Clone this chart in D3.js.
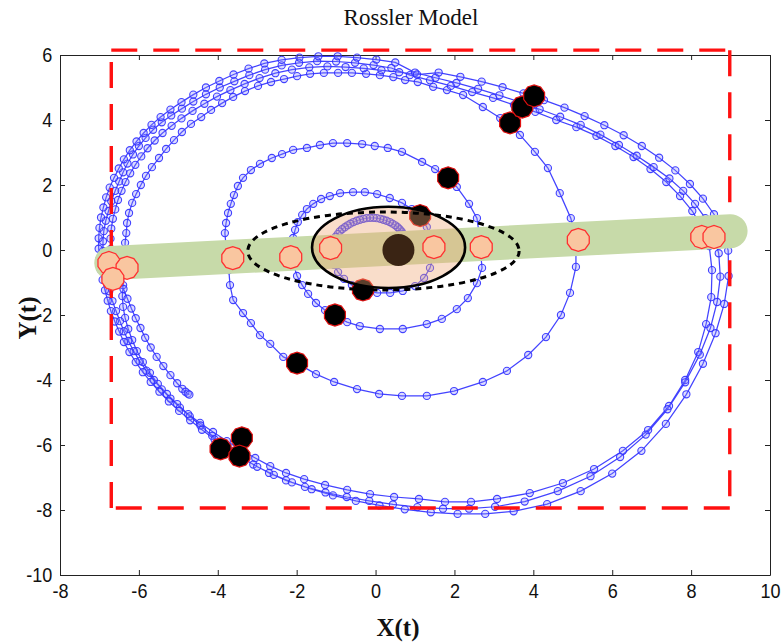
<!DOCTYPE html>
<html>
<head>
<meta charset="utf-8">
<script src="https://cdn.jsdelivr.net/npm/d3@7"></script>
<style>
  body { margin: 0; background: #fff; }
  svg { display: block; }
</style>
</head>
<body>
<svg id="chart" width="782" height="642"></svg>
<script>
// ---------- axis ticks ----------
const xTicks = [-8, -6, -4, -2, 0, 2, 4, 6, 8, 10];
const yTicks = [-10, -8, -6, -4, -2, 0, 2, 4, 6];

// ---------- trajectory, [x, y] samples in order ----------
// slow arc right next to the equilibrium
const coreArc = [
  [0.72,0.43],[0.69,0.50],[0.66,0.57],[0.61,0.64],[0.56,0.70],[0.50,0.76],[0.43,0.81],[0.36,0.86],
  [0.28,0.90],[0.20,0.93],[0.12,0.96],[0.03,0.98],[-0.05,0.99],[-0.14,0.99],[-0.23,0.98],[-0.31,0.96],
  [-0.40,0.93],[-0.48,0.90],[-0.56,0.86],[-0.64,0.81],[-0.71,0.76],[-0.78,0.70],[-0.85,0.64],[-0.91,0.57],
  [-0.96,0.49],[-1.01,0.41],[-1.05,0.32]
];
// three growing turns of the spiral
const spiralTurns = [
  [-1.10,0.22],[-1.13,0.0],[-1.10,-0.25],[-1.05,-0.46],[-0.95,-0.68],[-0.80,-0.89],[-0.60,-1.08],[-0.32,-1.23],
  [0.04,-1.32],[0.37,-1.32],[0.69,-1.26],[1.0,-1.11],[1.23,-0.86],[1.38,-0.55],[1.46,-0.22],[1.46,0.09],
  [1.40,0.40],[1.30,0.71],[1.13,1.02],[0.92,1.26],[0.67,1.45],[0.36,1.6],[0.04,1.72],[-0.27,1.78],
  [-0.57,1.78],[-0.90,1.75],[-1.16,1.66],[-1.38,1.57],[-1.58,1.42],[-1.74,1.26],[-1.86,1.08],[-1.97,0.86],
  [-2.04,0.62],[-2.09,0.37],[-2.12,0.09],[-2.12,-0.22],[-2.07,-0.49],[-1.99,-0.8],[-1.86,-1.08],[-1.71,-1.35],
  [-1.51,-1.63],[-1.28,-1.85],[-1.03,-2.03],[-0.72,-2.22],[-0.40,-2.34],[0.11,-2.43],[0.69,-2.43],[1.30,-2.28],
  [1.68,-2.12],[2.06,-1.82],[2.34,-1.48],[2.57,-1.02],[2.70,-0.55],[2.67,-0.18],[2.65,0.09],[2.62,0.55],
  [2.57,0.98],[2.37,1.42],[2.06,1.94],[1.84,2.22],[1.51,2.49],[1.18,2.71],[0.67,3.02],[0.31,3.14],
  [-0.02,3.2],[-0.34,3.26],[-0.72,3.29],[-1.08,3.29],[-1.41,3.23],[-1.74,3.14],[-2.09,3.08],[-2.37,2.95],
  [-2.63,2.83],[-2.93,2.65],[-3.16,2.46],[-3.36,2.22],[-3.49,1.97],[-3.59,1.69],[-3.67,1.42],[-3.74,1.14],
  [-3.79,0.83],[-3.82,0.52],[-3.79,0.12],[-3.72,-0.25],[-3.72,-0.62],[-3.69,-1.08],[-3.61,-1.54],[-3.36,-1.94],
  [-3.16,-2.25],[-2.93,-2.62],[-2.67,-2.89],[-2.34,-3.29],[-1.99,-3.48],[-1.51,-3.82],[-1.05,-4.06],[-0.47,-4.28],
  [0.09,-4.43],[0.67,-4.49],[1.30,-4.49],[1.99,-4.34],[2.72,-4.06],[3.33,-3.72],[3.87,-3.23],[4.32,-2.68],
  [4.70,-2.0],[4.93,-1.32],[5.08,-0.52],[5.08,0.31],[4.95,0.98],[4.67,1.75],[4.37,2.52],[4.04,3.02],
  [3.66,3.54],[3.41,3.91]
];
// first large loop
const loop1 = [
  [3.16,4.06],[2.72,4.4],[2.22,4.77],[1.81,4.92],[1.46,5.02],[1.07,5.17],[0.75,5.23],[0.45,5.32],
  [0.11,5.38],[-0.24,5.42],[-0.60,5.45],[-0.95,5.45],[-1.31,5.45],[-1.66,5.42],[-1.99,5.35],[-2.32,5.26],
  [-2.65,5.17],[-2.98,5.05],[-3.31,4.89],[-3.61,4.71],[-3.89,4.52],[-4.17,4.31],[-4.42,4.09],[-4.68,3.88],
  [-4.91,3.63],[-5.11,3.38],[-5.31,3.11],[-5.49,2.83],[-5.67,2.55],[-5.82,2.28],[-5.95,2.0],[-6.07,1.72],
  [-6.17,1.45],[-6.25,1.14],[-6.30,0.83],[-6.32,0.52],[-6.35,0.22],[-6.35,-0.09],[-6.35,-0.4],[-6.37,-0.74],
  [-6.4,-1.08],[-6.42,-1.42],[-6.40,-1.75],[-6.35,-2.09],[-6.27,-2.43],[-6.17,-2.77],[-6.05,-3.11],[-5.9,-3.45],
  [-5.72,-3.78],[-5.52,-4.12],[-5.29,-4.43],[-5.03,-4.74],[-4.75,-5.05],[-4.45,-5.32],[-4.12,-5.6],[-3.77,-5.88],
  [-3.42,-6.15],[-3.05,-6.4],[-2.67,-6.65],[-2.27,-6.86],[-1.81,-7.05],[-1.28,-7.23],[-0.72,-7.38],[-0.14,-7.51],
  [0.47,-7.6],[1.1,-7.66],[1.76,-7.75],[2.42,-7.75],[3.08,-7.66],[3.91,-7.48],[4.75,-7.17],[5.54,-6.74],
  [6.27,-6.18],[6.91,-5.54],[7.44,-4.8],[7.85,-4.0],[8.18,-3.14],[8.38,-2.28],[8.51,-1.45],[8.53,-0.62],
  [8.46,0.12],[8.28,0.68],[8.03,1.2],[7.72,1.66],[7.37,2.09],[6.97,2.49],[6.54,2.86],[6.08,3.2],
  [5.6,3.51],[5.09,3.78],[4.58,4.0],[4.05,4.25],[3.51,4.46],[2.98,4.68],[2.45,4.86],[1.91,5.05],
  [1.38,5.22],[0.87,5.38]
];
// second large loop
const loop2 = [
  [0.4,5.6],[-0.05,5.69],[-0.52,5.76],[-1.0,5.8],[-1.48,5.81],[-1.94,5.76],[-2.38,5.68],[-2.8,5.55],
  [-3.2,5.38],[-3.58,5.19],[-3.95,5.0],[-4.3,4.79],[-4.62,4.57],[-4.91,4.35],[-5.18,4.14],[-5.42,3.93],
  [-5.64,3.7],[-5.83,3.45],[-6.0,3.2],[-6.15,2.94],[-6.29,2.66],[-6.4,2.39],[-6.5,2.11],[-6.6,1.82],
  [-6.7,1.5],[-6.77,1.2],[-6.84,0.9],[-6.89,0.58],[-6.91,0.27],[-6.91,-0.03],[-6.9,-0.34],[-6.87,-0.65],
  [-6.81,-0.96],[-6.75,-1.27],[-6.67,-1.57],[-6.58,-1.88],[-6.48,-2.19],[-6.38,-2.5],[-6.27,-2.8],[-6.13,-3.11],
  [-5.98,-3.42],[-5.81,-3.71],[-5.62,-4.0],[-5.42,-4.29],[-5.2,-4.57],[-4.96,-4.85],[-4.71,-5.12],[-4.44,-5.4],
  [-4.14,-5.72],[-3.81,-6.03],[-3.47,-6.32],[-3.1,-6.6],[-2.7,-6.86],[-2.27,-7.09],[-1.79,-7.29],[-1.27,-7.46],
  [-0.73,-7.6],[-0.16,-7.72],[0.44,-7.83],[1.06,-7.91],[1.71,-7.96],[2.37,-7.96],[3.03,-7.9],[3.78,-7.74],
  [4.62,-7.42],[5.45,-6.96],[6.2,-6.37],[6.85,-5.68],[7.4,-4.9],[7.85,-4.07],[8.22,-3.22],[8.49,-2.4],
  [8.66,-1.6],[8.74,-0.82],[8.7,-0.1],[8.56,0.5],[8.36,0.98],[8.1,1.42],[7.8,1.82],[7.45,2.2],
  [7.05,2.55],[6.62,2.9],[6.17,3.23],[5.7,3.55],[5.2,3.85],[4.68,4.1],[4.16,4.33],[3.66,4.55],
  [3.14,4.76],[2.6,4.96],[2.05,5.14],[1.52,5.3],[1.0,5.46]
];
// third large loop (outermost)
const loop3 = [
  [0.5,5.77],[0.02,5.86],[-0.47,5.92],[-0.96,5.96],[-1.45,5.96],[-1.93,5.92],[-2.38,5.85],[-2.82,5.74],
  [-3.22,5.58],[-3.6,5.4],[-3.96,5.2],[-4.3,5.0],[-4.62,4.78],[-4.92,4.55],[-5.2,4.32],[-5.45,4.09],
  [-5.68,3.85],[-5.88,3.6],[-6.06,3.34],[-6.23,3.07],[-6.38,2.79],[-6.51,2.51],[-6.63,2.22],[-6.74,1.92],
  [-6.83,1.62],[-6.9,1.31],[-6.96,1.0],[-7.0,0.68],[-7.02,0.36],[-7.02,0.04],[-7.0,-0.28],[-6.97,-0.6],
  [-6.92,-0.92],[-6.86,-1.24],[-6.79,-1.56],[-6.71,-1.88],[-6.61,-2.2],[-6.5,-2.51],[-6.38,-2.83],[-6.24,-3.14],
  [-6.08,-3.45],[-5.9,-3.76],[-5.7,-4.06],[-5.48,-4.36],[-5.24,-4.66],[-4.98,-4.95],[-4.7,-5.24],[-4.4,-5.53],
  [-4.08,-5.83],[-3.74,-6.12],[-3.38,-6.4],[-3.0,-6.67],[-2.58,-6.92],[-2.12,-7.15],[-1.62,-7.36],[-1.08,-7.55],
  [-0.5,-7.72],[0.1,-7.86],[0.74,-7.98],[1.4,-8.07],[2.08,-8.12],[2.78,-8.12],[3.5,-8.04],[4.35,-7.82],
  [5.2,-7.42],[6.0,-6.88],[6.74,-6.18],[7.36,-5.35],[7.88,-4.44],[8.3,-3.5],[8.62,-2.56],[8.84,-1.66],
  [8.95,-0.8],[8.94,-0.02],[8.8,0.58],[8.58,1.1],[8.3,1.58],[7.97,2.03],[7.6,2.45],[7.19,2.84],
  [6.75,3.2],[6.29,3.53],[5.8,3.84],[5.3,4.12],[4.79,4.38],[4.27,4.61],[3.75,4.82],[3.22,5.01],
  [2.69,5.18],[2.15,5.33],[1.6,5.46]
];
// last, unfinished loop
const loop4 = [
  [1.05,5.4],[0.6,5.47],[0.15,5.53],[-0.3,5.59],[-0.76,5.63],[-1.22,5.65],[-1.68,5.62],[-2.12,5.55],
  [-2.54,5.44],[-2.94,5.29],[-3.32,5.11],[-3.68,4.92],[-4.02,4.72],[-4.34,4.5],[-4.64,4.28],[-4.92,4.05],
  [-5.17,3.82],[-5.4,3.6],[-5.6,3.37],[-5.78,3.13],[-5.94,2.88],[-6.09,2.62],[-6.22,2.36],[-6.34,2.09],
  [-6.44,1.82],[-6.53,1.54],[-6.6,1.25],[-6.66,0.96],[-6.7,0.66],[-6.72,0.35],[-6.71,0.03],[-6.66,-0.28],
  [-6.58,-0.59],[-6.49,-0.9],[-6.39,-1.2],[-6.29,-1.5],[-6.19,-1.8],[-6.08,-2.1],[-5.96,-2.4],[-5.84,-2.7],
  [-5.7,-3.0],[-5.55,-3.29],[-5.38,-3.57],[-5.2,-3.85],[-5.03,-4.1],[-4.9,-4.27],[-4.82,-4.36],[-4.76,-4.42],
  [-4.72,-4.45]
];

// crossings of the section band
const sectionPoints = [
  [-6.76,-0.40],[-6.30,-0.55],[-6.66,-0.89],[-3.62,-0.25],[-2.15,-0.22],[-1.14,0.06],
  [1.48,0.09],[2.68,0.09],[5.14,0.31],[8.27,0.40],[8.58,0.40]
];
// sampled states
const sampledPoints = [
  [1.13,1.06],[-0.32,-1.23],[-1.03,-2.0],[-1.99,-3.48],[1.84,2.22],[3.41,3.91],
  [3.72,4.40],[4.02,4.74],[-3.93,-6.12],[-3.39,-5.78],[-3.45,-6.34]
];
// equilibrium
const equilibrium = [0.58, 0.0];
// section band, end points
const bandEnds = [[-6.70,-0.40],[9.0,0.58]];
// bounding box of the attractor
const boxX = [-6.70, 8.98];
const boxY = [-7.94, 6.15];
// ellipses: centre x, centre y, semi-axis x, semi-axis y
const innerRegion = [0.33, 0.08, 1.94, 1.25];
const outerRegion = [0.20, -0.03, 3.44, 1.20];

// ---------- scales ----------
const svg = d3.select("#chart");
const x = d3.scaleLinear().domain([-8, 10]).range([60, 770]);
const y = d3.scaleLinear().domain([-10, 6]).range([575, 55]);

const tickFont = "'Liberation Sans', Arial, sans-serif";
const serif = "'Liberation Serif', 'Times New Roman', serif";

// ---------- axes (boxed, ticks inside) ----------
function styleAxis(g) {
  g.select(".domain").attr("stroke", "#222").attr("stroke-width", 1);
  g.selectAll(".tick line").attr("stroke", "#222");
  g.selectAll(".tick text")
    .attr("font-family", tickFont).attr("font-size", 21).attr("fill", "#111");
}
svg.append("g").attr("transform", `translate(0,${y(-10)})`)
  .call(d3.axisBottom(x).tickValues(xTicks).tickSize(-5).tickSizeOuter(0).tickPadding(8).tickFormat(d => String(d)))
  .call(styleAxis)
  .call(g => g.selectAll(".tick text").attr("transform", "scale(0.86,1)"));
svg.append("g").attr("transform", `translate(0,${y(6)})`)
  .call(d3.axisTop(x).tickValues(xTicks).tickSize(-5).tickSizeOuter(0).tickFormat(""))
  .call(styleAxis);
svg.append("g").attr("transform", `translate(${x(-8)},0)`)
  .call(d3.axisLeft(y).tickValues(yTicks).tickSize(-5).tickSizeOuter(0).tickPadding(9).tickFormat(d => String(d)))
  .call(styleAxis)
  .call(g => g.selectAll(".tick text").attr("transform", "scale(0.86,1)"));
svg.append("g").attr("transform", `translate(${x(10)},0)`)
  .call(d3.axisRight(y).tickValues(yTicks).tickSize(-5).tickSizeOuter(0).tickFormat(""))
  .call(styleAxis);

// ---------- titles ----------
svg.append("text").attr("x", 411).attr("y", 25).attr("text-anchor", "middle")
  .attr("font-family", serif).attr("font-size", 23).attr("fill", "#111").text("Rossler Model");
svg.append("text").attr("x", 398).attr("y", 636).attr("text-anchor", "middle")
  .attr("font-family", serif).attr("font-weight", "bold").attr("font-size", 25).attr("fill", "#111").text("X(t)");
svg.append("text").attr("transform", "translate(36,318) rotate(-90)").attr("text-anchor", "middle")
  .attr("font-family", serif).attr("font-weight", "bold").attr("font-size", 25).attr("fill", "#111").text("Y(t)");

// ---------- trajectory ----------
const trajectory = [].concat(coreArc, spiralTurns, loop1, loop2, loop3, loop4);
const blue = "#2f2fff";
const line = d3.line().x(d => x(d[0])).y(d => y(d[1]));
svg.append("path").datum(trajectory)
  .attr("d", line).attr("fill", "none").attr("stroke", blue)
  .attr("stroke-width", 1.25).attr("stroke-opacity", 0.9);
svg.append("g").selectAll("circle").data(trajectory).join("circle")
  .attr("cx", d => x(d[0])).attr("cy", d => y(d[1])).attr("r", 3.6)
  .attr("fill", "rgba(140,140,255,0.3)").attr("stroke", blue)
  .attr("stroke-width", 1.1).attr("stroke-opacity", 0.9);

// ---------- dashed bounding box ----------
const boxCorners = [
  [[boxX[0], boxY[1]], [boxX[1], boxY[1]]],
  [[boxX[1], boxY[1]], [boxX[1], boxY[0]]],
  [[boxX[1], boxY[0]], [boxX[0], boxY[0]]],
  [[boxX[0], boxY[0]], [boxX[0], boxY[1]]]
];
svg.append("g").selectAll("path").data(boxCorners).join("path")
  .attr("d", line).attr("fill", "none").attr("stroke", "#ff1010")
  .attr("stroke-width", 3.4).attr("stroke-dasharray", "26,16");

// ---------- section band ----------
svg.append("path").datum(bandEnds).attr("d", line)
  .attr("stroke", "#c7daa9").attr("stroke-width", 34).attr("stroke-linecap", "round").attr("fill", "none");

// ---------- markers ----------
function polygonMark(cx, cy, r, n) {
  const pts = d3.range(n).map(i => {
    const a = Math.PI / n + i * 2 * Math.PI / n;
    return [cx + r * Math.cos(a), cy + r * Math.sin(a)];
  });
  return "M" + pts.map(p => p.join(",")).join("L") + "Z";
}
svg.append("g").selectAll("path").data(sampledPoints).join("path")
  .attr("d", d => polygonMark(x(d[0]), y(d[1]), 11, 10))
  .attr("fill", "#000").attr("stroke", "#e01010").attr("stroke-width", 1.2);

// target region
svg.append("ellipse")
  .attr("cx", x(innerRegion[0])).attr("cy", y(innerRegion[1]))
  .attr("rx", x(innerRegion[0] + innerRegion[2]) - x(innerRegion[0]))
  .attr("ry", y(innerRegion[1]) - y(innerRegion[1] + innerRegion[3]))
  .attr("fill", "rgb(240,165,115)").attr("fill-opacity", 0.38)
  .attr("stroke", "#000").attr("stroke-width", 2.6);

// equilibrium point, seen through the region shading
svg.append("circle").attr("cx", x(equilibrium[0])).attr("cy", y(equilibrium[1])).attr("r", 16)
  .attr("fill", "#3a2414");

svg.append("g").selectAll("path").data(sectionPoints).join("path")
  .attr("d", d => polygonMark(x(d[0]), y(d[1]), 11.5, 10))
  .attr("fill", "#f9c6a0").attr("stroke", "#ff3030").attr("stroke-width", 1.3);

svg.append("ellipse")
  .attr("cx", x(outerRegion[0])).attr("cy", y(outerRegion[1]))
  .attr("rx", x(outerRegion[0] + outerRegion[2]) - x(outerRegion[0]))
  .attr("ry", y(outerRegion[1]) - y(outerRegion[1] + outerRegion[3]))
  .attr("fill", "none").attr("stroke", "#000").attr("stroke-width", 3)
  .attr("stroke-dasharray", "6,5");
</script>
</body>
</html>
